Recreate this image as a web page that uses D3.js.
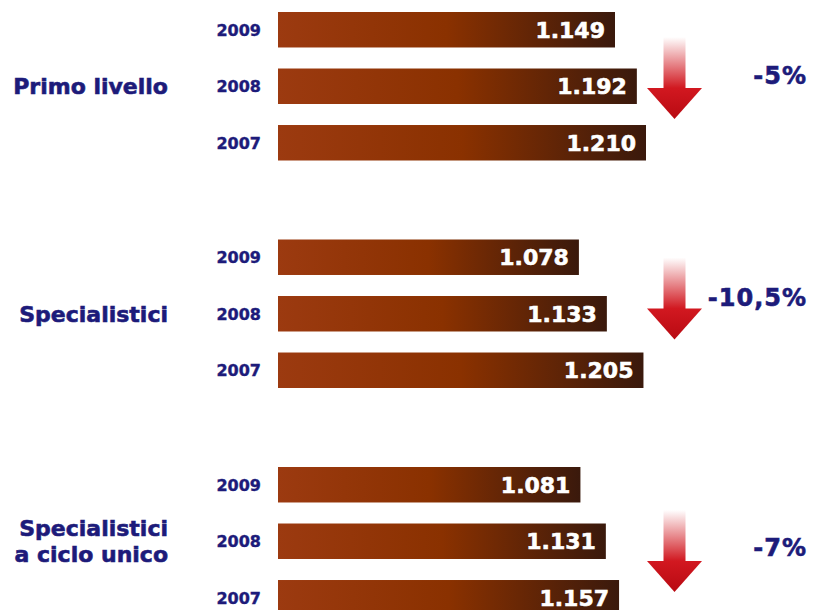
<!DOCTYPE html>
<html>
<head>
<meta charset="utf-8">
<script src="https://cdn.jsdelivr.net/npm/d3@7"></script>
<style>
  body { margin: 0; background: #fff; }
  text { font-family: "DejaVu Sans", Verdana, sans-serif; font-weight: 700; }
</style>
</head>
<body>
<script>
// data (values are in thousands, Italian notation)
const categories = [["Primo livello"], ["Specialistici"], ["Specialistici", "a ciclo unico"]];
const years = ["2009", "2008", "2007"];
const values = [
    [1149, 1192, 1210],
    [1078, 1133, 1205],
    [1081, 1131, 1157]
];
const changes = ["-5%", "-10,5%", "-7%"];

const width = 815,
      height = 610,
      navy = "#1d1b7a";

// where the arrow and the percentage sit inside each group
const arrowTop = [25, 18, 43],
      changeY = [63, 58, 80];

const itFormat = d3.formatLocale({ decimal: ",", thousands: ".", grouping: [3], currency: ["€", ""] }).format(",");

const svg = d3.select("body").append("svg").attr("width", width).attr("height", height);

const defs = svg.append("defs");
let barGrad = defs.append("linearGradient").attr("id", "barGrad").attr("x1", 0).attr("x2", 1).attr("y1", 0).attr("y2", 0);
barGrad.append("stop").attr("offset", "0%").attr("stop-color", "#9c3a10");
barGrad.append("stop").attr("offset", "50%").attr("stop-color", "#8a3100");
barGrad.append("stop").attr("offset", "100%").attr("stop-color", "#3a190c");

let shaftGrad = defs.append("linearGradient").attr("id", "shaftGrad").attr("x1", 0).attr("x2", 0).attr("y1", 0).attr("y2", 1);
shaftGrad.append("stop").attr("offset", "0%").attr("stop-color", "#ffffff");
shaftGrad.append("stop").attr("offset", "100%").attr("stop-color", "#d0141c");

let headGrad = defs.append("linearGradient").attr("id", "headGrad").attr("x1", 0).attr("x2", 0).attr("y1", 0).attr("y2", 1);
headGrad.append("stop").attr("offset", "0%").attr("stop-color", "#d21820");
headGrad.append("stop").attr("offset", "100%").attr("stop-color", "#b80a12");

let x = d3.scaleLinear().domain([486, 1210]).range([278, 646]);
let groupY = d3.scaleBand().domain(d3.range(categories.length)).range([12, 12 + 3 * 227.5]);
let rowY = d3.scaleBand().domain(years).range([0, 148.5]).paddingInner(0.372).paddingOuter(0);

let groups = svg.selectAll(".group").data(categories).enter().append("g")
    .attr("class", "group")
    .attr("transform", (d, i) => `translate(0, ${groupY(i)})`);

// category label, centred on the middle bar
groups.append("text")
    .attr("text-anchor", "end")
    .attr("fill", navy).attr("stroke", navy).attr("stroke-width", 0.6)
    .attr("font-size", 22)
    .attr("transform", `translate(168, ${rowY(years[1]) + rowY.bandwidth() / 2})`)
    .selectAll("tspan").data(d => d).enter().append("tspan")
    .attr("x", 0)
    .attr("y", (d, i, nodes) => (i - (nodes.length - 1) / 2) * 26)
    .attr("dy", "0.36em")
    .text(d => d);

let rows = groups.selectAll(".row").data((d, i) => values[i].map((v, j) => ({ year: years[j], value: v }))).enter().append("g")
    .attr("class", "row")
    .attr("transform", d => `translate(0, ${rowY(d.year)})`);

rows.append("text")
    .attr("x", 261).attr("y", rowY.bandwidth() / 2).attr("dy", "0.36em")
    .attr("text-anchor", "end").attr("fill", navy).attr("stroke", navy).attr("stroke-width", 0.4)
    .attr("font-size", 16)
    .text(d => d.year);

rows.append("rect")
    .attr("x", x.range()[0]).attr("y", 0)
    .attr("width", d => x(d.value) - x.range()[0])
    .attr("height", rowY.bandwidth())
    .attr("fill", "url(#barGrad)");

rows.append("text")
    .attr("x", d => x(d.value) - 10).attr("y", rowY.bandwidth() / 2).attr("dy", "0.36em")
    .attr("text-anchor", "end").attr("fill", "#fff").attr("stroke", "#fff").attr("stroke-width", 0.6)
    .attr("font-size", 22)
    .text(d => itFormat(d.value));

// down arrows
const cx = 674.5, shaftW = 22, headW = 55, arrowLen = 82, headLen = 31;
let arrows = groups.append("g").attr("transform", (d, i) => `translate(${cx}, ${arrowTop[i]})`);
arrows.append("rect")
    .attr("x", -shaftW / 2).attr("y", 0)
    .attr("width", shaftW).attr("height", arrowLen - headLen + 1)
    .attr("fill", "url(#shaftGrad)");
arrows.append("path")
    .attr("d", `M${-headW / 2},${arrowLen - headLen} L${headW / 2},${arrowLen - headLen} L0,${arrowLen} Z`)
    .attr("fill", "url(#headGrad)");

groups.append("text")
    .attr("x", 807).attr("y", (d, i) => changeY[i]).attr("dy", "0.36em")
    .attr("text-anchor", "end").attr("fill", navy).attr("stroke", navy).attr("stroke-width", 0.6)
    .attr("font-size", 24)
    .attr("letter-spacing", 1)
    .text((d, i) => changes[i]);
</script>
</body>
</html>
